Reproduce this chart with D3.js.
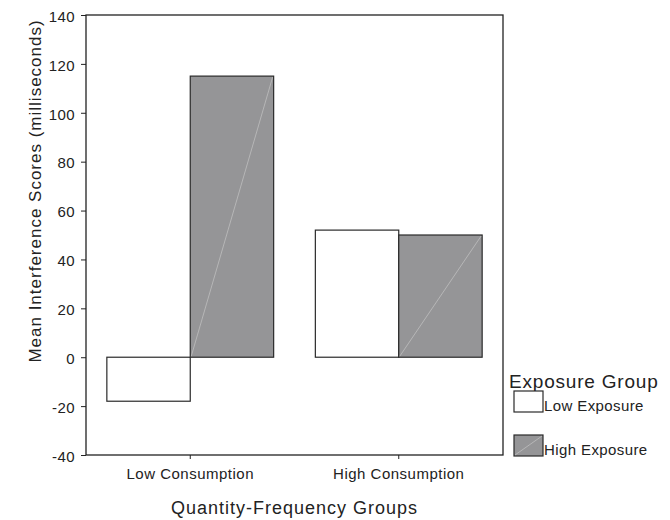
<!DOCTYPE html>
<html>
<head>
<meta charset="utf-8">
<script src="https://cdn.jsdelivr.net/npm/d3@7"></script>
<style>
  body { margin: 0; background: #fff; }
  text { font-family: "Liberation Sans", Arial, sans-serif; fill: #222; }
</style>
</head>
<body>
<div id="chart"></div>
<script>
// Data
const groups = ["Low Consumption", "High Consumption"];
const exposures = ["Low Exposure", "High Exposure"];
const lowExposure = [-18, 52];
const highExposure = [115, 50];
const yTicks = [-40, -20, 0, 20, 40, 60, 80, 100, 120, 140];

const width = 670, height = 520;
const margin = { top: 15, right: 167, bottom: 65, left: 86 };
const fontFamily = '"Liberation Sans", Arial, sans-serif';

const svg = d3.select('#chart').append('svg')
    .attr('width', width)
    .attr('height', height);

const x = d3.scaleBand()
    .domain(groups)
    .range([margin.left, width - margin.right])
    .paddingInner(0.2)
    .paddingOuter(0.1);

const x1 = d3.scaleBand()
    .domain(exposures)
    .range([0, x.bandwidth()]);

const y = d3.scaleLinear()
    .domain([-40, 140])
    .range([height - margin.bottom, margin.top]);

const fills = { "Low Exposure": "#ffffff", "High Exposure": "#959597" };

const rows = groups.map((g, i) => ({ group: g, values: [
    { key: exposures[0], value: lowExposure[i] },
    { key: exposures[1], value: highExposure[i] }
]}));

// bars
const grp = svg.selectAll('.grp')
    .data(rows)
    .enter().append('g')
    .attr('transform', d => `translate(${x(d.group)},0)`);

grp.selectAll('rect')
    .data(d => d.values)
    .enter().append('rect')
    .attr('x', d => x1(d.key))
    .attr('y', d => y(Math.max(0, d.value)))
    .attr('width', x1.bandwidth())
    .attr('height', d => Math.abs(y(d.value) - y(0)))
    .attr('fill', d => fills[d.key])
    .attr('stroke', '#2a2a2a')
    .attr('stroke-width', 1.2);

// faint diagonal in the shaded bars
grp.selectAll('line.diag')
    .data(d => d.values.filter(v => v.key === "High Exposure"))
    .enter().append('line')
    .attr('class', 'diag')
    .attr('x1', d => x1(d.key) + 1)
    .attr('y1', y(0) - 1)
    .attr('x2', d => x1(d.key) + x1.bandwidth() - 1)
    .attr('y2', d => y(d.value) + 1)
    .attr('stroke', '#c4c4c4')
    .attr('stroke-width', 0.7);

// frame
svg.append('rect')
    .attr('x', margin.left)
    .attr('y', margin.top)
    .attr('width', width - margin.right - margin.left)
    .attr('height', height - margin.bottom - margin.top)
    .attr('fill', 'none')
    .attr('stroke', '#222')
    .attr('stroke-width', 1.3);

// y axis
const yAxis = svg.append('g')
    .attr('transform', `translate(${margin.left},0)`)
    .call(d3.axisLeft(y).tickValues(yTicks).tickFormat(d => String(d))
        .tickSize(5).tickPadding(6).tickSizeOuter(0));
yAxis.select('.domain').remove();
yAxis.selectAll('text')
    .attr('dy', '0.42em')
    .style('font-size', '15px')
    .style('letter-spacing', '0.4px')
    .style('font-family', fontFamily)
    .attr('fill', '#222');
yAxis.selectAll('line').attr('stroke', '#222');

// x axis
const xAxis = svg.append('g')
    .attr('transform', `translate(0,${height - margin.bottom})`)
    .call(d3.axisBottom(x).tickSize(4).tickPadding(9).tickSizeOuter(0));
xAxis.select('.domain').remove();
xAxis.selectAll('text')
    .style('font-size', '15px')
    .style('letter-spacing', '0.5px')
    .style('font-family', fontFamily)
    .attr('fill', '#222');
xAxis.selectAll('line').attr('stroke', '#222');

// axis titles
svg.append('text')
    .attr('x', (margin.left + width - margin.right) / 2)
    .attr('y', 514)
    .attr('text-anchor', 'middle')
    .style('font-size', '18px')
    .style('letter-spacing', '1px')
    .text('Quantity-Frequency Groups');

svg.append('text')
    .attr('transform', `translate(41,191) rotate(-90)`)
    .attr('text-anchor', 'middle')
    .style('font-size', '17px')
    .style('letter-spacing', '1px')
    .text('Mean Interference Scores (milliseconds)');

// legend
const legend = svg.append('g').attr('transform', 'translate(509,0)');
legend.append('text')
    .attr('x', 0)
    .attr('y', 388)
    .style('font-size', '19px')
    .style('letter-spacing', '0.8px')
    .text('Exposure Group');

const item = legend.selectAll('.item')
    .data(exposures)
    .enter().append('g')
    .attr('transform', (d, i) => `translate(5,${391 + i * 44})`);

item.append('rect')
    .attr('width', 29)
    .attr('height', 21)
    .attr('fill', d => fills[d])
    .attr('stroke', '#2a2a2a')
    .attr('stroke-width', 1.2);

item.filter(d => d === "High Exposure").append('line')
    .attr('x1', 1).attr('y1', 20)
    .attr('x2', 28).attr('y2', 1)
    .attr('stroke', '#c4c4c4')
    .attr('stroke-width', 0.7);

item.append('text')
    .attr('x', 30)
    .attr('y', 19.5)
    .style('font-size', '15px')
    .style('letter-spacing', '0.4px')
    .text(d => d);
</script>
</body>
</html>
